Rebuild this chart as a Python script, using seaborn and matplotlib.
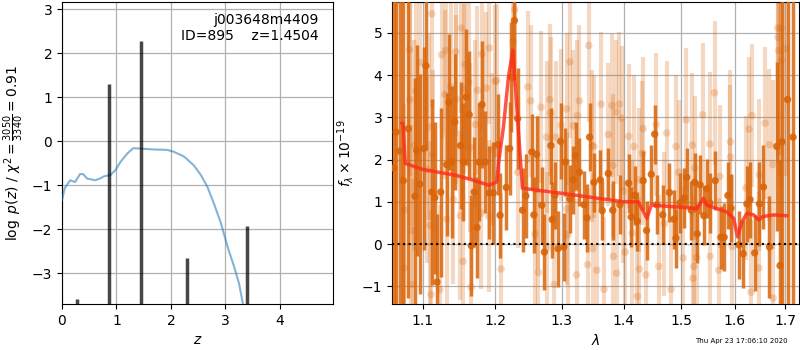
import numpy as np
import pandas as pd
import matplotlib
matplotlib.use('Agg')
import matplotlib.pyplot as plt
import matplotlib.ticker as mticker
import seaborn as sns

# ============================================================
# DATA
# ============================================================

# left panel: log p(z) curve
pz_z = [0.0, 0.05, 0.15, 0.24, 0.33, 0.39, 0.46, 0.61, 0.70, 0.77, 0.89, 0.98,
        1.07, 1.20, 1.31, 1.44, 1.68, 1.93, 2.05, 2.24, 2.42, 2.55, 2.67, 2.79,
        2.92, 3.04, 3.16, 3.25, 3.32, 3.36]
pz_logp = [-1.34, -1.07, -0.89, -0.93, -0.75, -0.75, -0.85, -0.89, -0.85, -0.80, -0.77, -0.66,
           -0.48, -0.28, -0.16, -0.17, -0.19, -0.20, -0.24, -0.35, -0.55, -0.77, -1.04, -1.42,
           -1.87, -2.40, -2.85, -3.23, -3.68, -4.20]

# left panel: spikes
spike_z = [0.283, 0.867, 1.445, 2.30, 3.39]
spike_val = [-3.58, 1.30, 2.28, -2.65, -1.92]

# right panel: dark spectrum points
dark_wave = [1.0625, 1.0653, 1.0700, 1.0745, 1.0810, 1.0897, 1.0920, 1.0960, 1.1015, 1.1040,
             1.1120, 1.1160, 1.1190, 1.1240, 1.1320, 1.1350, 1.1390, 1.1430, 1.1510, 1.1550,
             1.1590, 1.1630, 1.1660, 1.1700, 1.1740, 1.1770, 1.1810, 1.1857, 1.1915, 1.1970,
             1.2035, 1.2070, 1.2160, 1.2210, 1.2236, 1.2280, 1.2327, 1.2400, 1.2450, 1.2540,
             1.2570, 1.2610, 1.2690, 1.2730, 1.2830, 1.2850, 1.2890, 1.2940, 1.2980, 1.3030,
             1.3055, 1.3126, 1.3180, 1.3216, 1.3276, 1.3350, 1.3397, 1.3440, 1.3510, 1.3616,
             1.3646, 1.3746, 1.3820, 1.3940, 1.4087, 1.4130, 1.4190, 1.4234, 1.4334, 1.4393,
             1.4475, 1.4534, 1.4570, 1.4675, 1.4793, 1.4875, 1.4910, 1.4981, 1.5058, 1.5105,
             1.5187, 1.5250, 1.5297, 1.5350, 1.5417, 1.5470, 1.5530, 1.5630, 1.5737, 1.5800,
             1.5870, 1.5930, 1.6083, 1.6163, 1.6237, 1.6300, 1.6390, 1.6483, 1.6563, 1.6683,
             1.6830, 1.6897, 1.6937, 1.7050, 1.7163]
dark_flux = [1.80, 2.65, 2.20, 1.50, 2.73, 1.13, 2.21, 1.42, 2.26, 4.22,
             1.23, 1.10, -0.90, 1.23, 1.88, 3.36, 1.94, 2.89, 2.33, 1.94,
             3.48, 3.06, -0.04, 1.23, 0.39, 1.94, 3.30, 1.94, 1.21, 1.21,
             2.35, 0.68, 1.34, 2.26, 3.95, 5.29, 2.97, 0.80, 1.14, 2.18,
             0.69, 2.12, 0.92, -0.19, 2.33, 0.58, 1.15, -0.11, 2.43, -0.07,
             1.94, 1.07, 1.52, 2.09, 1.70, 0.93, 0.62, 2.53, 1.46, 1.52,
             0.79, 1.67, 0.80, 0.93, 1.44, 0.64, 1.15, 0.54, 1.50, 0.32,
             1.65, 2.60, 0.93, 0.69, 1.22, 0.59, 0.14, 0.97, 1.09, 1.58,
             0.80, 1.46, 0.24, 1.40, 0.67, 1.31, 0.97, 1.50, 0.16, 0.16,
             1.15, 0.85, -0.02, -0.23, 0.95, 1.05, -0.21, 0.95, 1.35, -0.07,
             2.31, -0.51, 2.42, 3.42, 2.53]
dark_err = [6.0, 6.0, 6.0, 4.5, 4.0, 2.8, 2.5, 2.6, 2.4, 2.0,
            2.2, 1.8, 1.6, 2.0, 1.7, 1.6, 1.8, 1.6, 1.5, 1.4,
            1.6, 1.5, 1.2, 1.3, 1.2, 1.4, 1.5, 1.2, 1.1, 1.2,
            1.2, 1.0, 1.0, 1.1, 1.3, 1.4, 1.2, 1.0, 1.0, 0.9,
            0.9, 0.9, 0.9, 0.9, 0.9, 0.9, 0.8, 0.9, 0.9, 0.8,
            0.8, 0.8, 0.8, 0.8, 0.8, 0.8, 0.8, 0.8, 0.7, 0.7,
            0.7, 0.6, 0.7, 0.7, 0.7, 0.7, 0.7, 0.7, 0.7, 0.7,
            0.7, 0.7, 0.7, 0.7, 0.7, 0.7, 0.7, 0.7, 0.7, 0.7,
            0.7, 0.7, 0.7, 0.7, 0.7, 0.7, 0.7, 0.7, 0.75, 0.8,
            0.8, 0.8, 0.8, 0.8, 0.9, 0.9, 0.9, 1.0, 1.0, 1.2,
            2.0, 2.5, 4.0, 5.0, 6.0]

# right panel: light spectrum points
light_wave = [1.0756, 1.0760, 1.0826, 1.0830, 1.0850, 1.0870, 1.0887, 1.0910, 1.0960, 1.1060,
              1.1080, 1.1099, 1.1110, 1.1120, 1.1130, 1.1225, 1.1250, 1.1296, 1.1305, 1.1320,
              1.1376, 1.1410, 1.1446, 1.1450, 1.1507, 1.1520, 1.1545, 1.1563, 1.1570, 1.1624,
              1.1648, 1.1657, 1.1718, 1.1746, 1.1800, 1.1810, 1.1873, 1.1906, 1.1915, 1.1960,
              1.2000, 1.2020, 1.2085, 1.2260, 1.2286, 1.2327, 1.2477, 1.2523, 1.2588, 1.2638,
              1.2640, 1.2678, 1.2764, 1.2770, 1.2814, 1.2824, 1.2880, 1.2905, 1.2990, 1.3075,
              1.3080, 1.3090, 1.3126, 1.3180, 1.3231, 1.3246, 1.3276, 1.3407, 1.3427, 1.3482,
              1.3490, 1.3510, 1.3558, 1.3628, 1.3675, 1.3746, 1.3805, 1.3822, 1.3830, 1.3881,
              1.3885, 1.3928, 1.3970, 1.3999, 1.4028, 1.4087, 1.4146, 1.4175, 1.4234, 1.4264,
              1.4270, 1.4322, 1.4334, 1.4381, 1.4558, 1.4605, 1.4705, 1.4746, 1.4822, 1.4910,
              1.4958, 1.5040, 1.5099, 1.5205, 1.5217, 1.5234, 1.5250, 1.5283, 1.5397, 1.5530,
              1.5537, 1.5617, 1.5697, 1.5717, 1.5917, 1.5920, 1.5950, 1.6217, 1.6280, 1.6317,
              1.6337, 1.6470, 1.6483, 1.6597, 1.6683, 1.6750, 1.6755, 1.6850, 1.6855, 1.6870,
              1.6917, 1.6920, 1.7017]
light_flux = [-0.57, 0.81, 4.60, 3.42, 0.32, -0.96, 2.33, 3.63, 4.30, 1.76,
              2.77, 0.44, -1.20, 5.45, 2.12, -1.08, 4.48, 3.54, 4.58, 0.59,
              3.72, 1.05, 4.55, 3.43, 0.67, 5.11, -0.41, 3.69, 4.25, 3.83,
              2.29, -1.02, 2.83, 3.64, 0.73, 4.50, 3.69, 0.66, 4.64, 2.25,
              3.85, 3.87, -0.59, 4.80, 5.55, 1.70, 3.72, 3.39, 0.24, 1.22,
              -0.67, 3.24, 2.53, -0.09, 3.42, 3.10, -0.96, 2.53, 2.81, 3.20,
              0.83, 0.22, 4.31, 2.80, -0.73, 3.04, 3.39, -0.49, 4.70, 2.33,
              -0.11, 2.31, -0.62, 3.31, -1.07, 2.59, 3.28, 1.86, -0.29, 3.13,
              -0.69, 3.31, 2.98, 1.25, -0.19, 2.55, 0.26, 2.31, -1.24, 1.52,
              -0.59, 2.15, 2.73, -0.73, 2.83, -0.53, 0.48, 2.63, -1.07, 2.31,
              1.70, -0.33, 2.94, 2.34, -0.81, -0.53, 1.80, -0.32, 3.06, 2.37,
              -0.29, 3.58, -0.62, 1.60, 2.42, 2.06, -0.06, 1.33, 2.72, -1.14,
              3.04, -0.57, 1.64, 2.86, 2.35, 1.88, -1.28, 5.11, 4.89, 4.58,
              5.11, 4.34, 4.62]
light_err = [2.5, 2.5, 3.0, 3.0, 2.5, 2.5, 2.5, 2.5, 2.5, 2.2,
             2.2, 2.0, 2.0, 2.2, 2.0, 2.0, 2.0, 2.0, 2.0, 2.0,
             2.0, 2.0, 2.0, 2.0, 2.0, 2.0, 2.0, 2.0, 2.0, 2.0,
             2.0, 2.0, 2.0, 2.0, 1.8, 1.8, 1.8, 1.8, 1.8, 1.8,
             1.8, 1.8, 1.8, 1.8, 1.8, 1.8, 1.8, 1.8, 1.8, 1.8,
             1.8, 1.8, 1.8, 1.8, 1.8, 1.8, 1.8, 1.8, 1.8, 1.8,
             1.8, 1.8, 1.8, 1.8, 1.8, 1.8, 1.8, 1.8, 1.8, 1.8,
             1.8, 1.7, 1.7, 1.7, 1.7, 1.7, 1.7, 1.7, 1.7, 1.7,
             1.7, 1.7, 1.7, 1.7, 1.7, 1.7, 1.7, 1.7, 1.7, 1.7,
             1.7, 1.7, 1.7, 1.7, 1.7, 1.7, 1.7, 1.7, 1.7, 1.7,
             1.7, 1.7, 1.7, 1.7, 1.7, 1.7, 1.7, 1.7, 1.7, 1.7,
             1.7, 1.7, 1.7, 1.7, 1.7, 1.7, 1.7, 1.7, 1.7, 1.7,
             1.7, 1.8, 1.8, 1.8, 1.8, 2.0, 2.0, 3.0, 3.0, 3.0,
             3.0, 3.0, 3.0]

# right panel: model
model_wave = [1.0726, 1.0742, 1.0770, 1.0990, 1.1236, 1.1440, 1.1690, 1.1908, 1.1995, 1.2022,
              1.2047, 1.2119, 1.2192, 1.2257, 1.2330, 1.2398, 1.3000, 1.4000, 1.4250, 1.4398,
              1.4475, 1.5000, 1.5290, 1.5410, 1.5470, 1.5660, 1.5850, 1.5980, 1.6056, 1.6140,
              1.6240, 1.6370, 1.6470, 1.6550, 1.6770, 1.7030]
model_flux = [2.86, 2.84, 1.91, 1.77, 1.69, 1.63, 1.51, 1.39, 1.45, 1.47,
              1.91, 2.77, 3.96, 4.59, 2.90, 1.32, 1.20, 1.00, 1.00, 0.61,
              0.92, 0.87, 0.84, 1.08, 0.92, 0.84, 0.76, 0.61, 0.17, 0.53,
              0.73, 0.69, 0.57, 0.65, 0.69, 0.67]

obj_name = 'j003648m4409'
obj_info = 'ID=895    z=1.4504'
timestamp = 'Thu Apr 23 17:06:10 2020'

ORANGE = '#d9650a'

# ============================================================
# FIGURE
# ============================================================

fig = plt.figure(figsize=(8, 3.5), dpi=100)
ax1 = fig.add_axes([0.0775, 0.1314, 0.339, 0.863])
ax2 = fig.add_axes([0.490, 0.1314, 0.509, 0.863])

# ---- left: p(z)
pz_df = pd.DataFrame({'z': pz_z, 'logp': pz_logp})
sns.lineplot(data=pz_df, x='z', y='logp', ax=ax1, color='#1f77b4', alpha=0.55,
             linewidth=1.5, estimator=None, sort=False, zorder=3)
ax1.vlines(spike_z, -5, spike_val, color='k', alpha=0.72, linewidth=2.5, zorder=4)

ax1.set_xlim(0, 4.98)
ax1.set_ylim(-3.70, 3.16)
ax1.set_xticks([0, 1, 2, 3, 4])
ax1.set_yticks([-3, -2, -1, 0, 1, 2, 3])
ax1.grid(True, color='#b0b0b0', linewidth=0.9)
ax1.set_axisbelow(True)
ax1.set_xlabel('$z$')
ax1.set_ylabel(r'$\log\ p(z)$ / $\chi^2=\frac{3050}{3340}=0.91$')
ax1.text(0.945, 0.965, obj_name + '\n' + obj_info, transform=ax1.transAxes,
         ha='right', va='top', fontsize=10)

# ---- right: spectrum
ax2.errorbar(light_wave, light_flux, yerr=light_err, fmt='none', ecolor=ORANGE,
             alpha=0.25, elinewidth=3, zorder=2)
sns.scatterplot(x=light_wave, y=light_flux, ax=ax2, color=ORANGE, alpha=0.25,
                s=30, edgecolor='none', zorder=2)

ax2.errorbar(dark_wave, dark_flux, yerr=dark_err, fmt='none', ecolor=ORANGE,
             alpha=0.85, elinewidth=2.5, zorder=3)
sns.scatterplot(x=dark_wave, y=dark_flux, ax=ax2, color=ORANGE, alpha=0.9,
                s=28, edgecolor='none', zorder=3)

model_df = pd.DataFrame({'wave': model_wave, 'flux': model_flux})
sns.lineplot(data=model_df, x='wave', y='flux', ax=ax2, color='#ff2a1a', alpha=0.8,
             linewidth=2.5, estimator=None, sort=False, zorder=5)

ax2.axhline(0, color='k', linestyle=':', linewidth=1.5, zorder=6)

ax2.set_xscale('log')
ax2.set_xlim(1.06, 1.729)
ax2.set_ylim(-1.42, 5.73)
ax2.xaxis.set_major_locator(mticker.FixedLocator([1.1, 1.2, 1.3, 1.4, 1.5, 1.6, 1.7]))
ax2.xaxis.set_major_formatter(mticker.FormatStrFormatter('%.1f'))
ax2.xaxis.set_minor_locator(mticker.NullLocator())
ax2.set_yticks([-1, 0, 1, 2, 3, 4, 5])
ax2.grid(True, color='#b0b0b0', linewidth=0.9)
ax2.set_axisbelow(True)
ax2.set_xlabel(r'$\lambda$')
ax2.set_ylabel(r'$f_\lambda\times10^{-19}$')

fig.text(0.985, 0.025, timestamp, ha='right', va='center', fontsize=5)

fig.savefig('out.png', dpi=100)
